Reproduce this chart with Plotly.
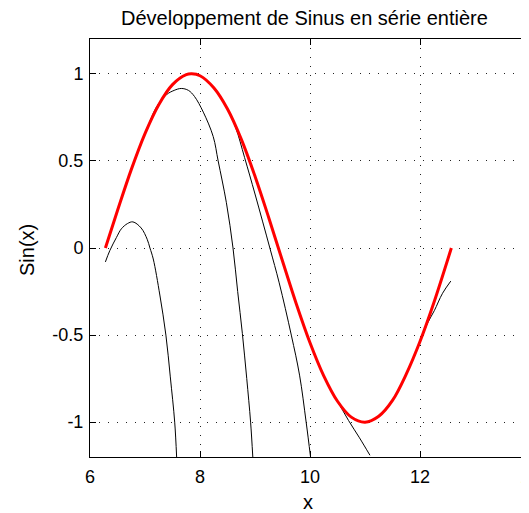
import plotly.graph_objects as go

# ---- data ----
# red curve: sin(x) on [2*pi, 4*pi]
sin_x = [6.28, 6.5, 6.75, 7.0, 7.25, 7.5, 7.75, 7.85, 8.0, 8.25, 8.5, 8.75, 9.0, 9.25,
         9.5, 9.75, 10.0, 10.25, 10.5, 10.75, 11.0, 11.25, 11.5, 11.75, 12.0, 12.25, 12.57]
sin_y = [0.0, 0.215, 0.45, 0.657, 0.823, 0.938, 0.995, 1.0, 0.989, 0.92, 0.798, 0.625, 0.412, 0.174,
         -0.075, -0.32, -0.544, -0.734, -0.88, -0.971, -1.0, -0.966, -0.875, -0.724, -0.537, -0.316, 0.0]

# black curves: truncated power series (partial sums)
t1_x = [6.28, 6.36, 6.48, 6.57, 6.68, 6.78, 6.93, 7.04, 7.09, 7.15, 7.27, 7.38, 7.46, 7.54, 7.575]
t1_y = [-0.08, -0.015, 0.06, 0.11, 0.14, 0.15, 0.115, 0.05, 0.0, -0.063, -0.27, -0.5, -0.74, -1.0, -1.2]

t2_x = [6.28, 6.5, 6.75, 7.0, 7.21, 7.39, 7.53, 7.66, 7.79, 7.9, 8.06, 8.24, 8.33, 8.48,
        8.6, 8.685, 8.77, 8.85, 8.92, 8.96]
t2_y = [0.0, 0.215, 0.45, 0.655, 0.81, 0.88, 0.905, 0.916, 0.905, 0.87, 0.78, 0.64, 0.5, 0.26,
        0.0, -0.25, -0.49, -0.75, -1.0, -1.2]

t3_x = [6.28, 6.5, 6.75, 7.0, 7.25, 7.5, 7.75, 8.0, 8.25, 8.5, 8.65, 8.81, 9.0, 9.27,
        9.44, 9.66, 9.81, 9.93, 10.01]
t3_y = [0.0, 0.215, 0.45, 0.657, 0.823, 0.938, 0.995, 0.989, 0.92, 0.795, 0.69, 0.52, 0.31, 0.0,
        -0.2, -0.5, -0.73, -1.0, -1.2]

t4_x = [6.28, 6.5, 6.75, 7.0, 7.25, 7.5, 7.75, 8.0, 8.25, 8.5, 8.75, 9.0, 9.25, 9.5, 9.75,
        10.0, 10.15, 10.33, 10.5, 10.7, 10.9, 11.09]
t4_y = [0.0, 0.215, 0.45, 0.657, 0.823, 0.938, 0.995, 0.989, 0.92, 0.798, 0.625, 0.412, 0.174,
        -0.075, -0.32, -0.544, -0.66, -0.79, -0.88, -0.99, -1.09, -1.19]

t5_x = [6.28, 6.5, 6.75, 7.0, 7.25, 7.5, 7.75, 8.0, 8.25, 8.5, 8.75, 9.0, 9.25, 9.5, 9.75,
        10.0, 10.25, 10.5, 10.75, 11.0, 11.25, 11.5, 11.75, 11.9, 12.05, 12.14, 12.26, 12.41, 12.56]
t5_y = [0.0, 0.215, 0.45, 0.657, 0.823, 0.938, 0.995, 0.989, 0.92, 0.798, 0.625, 0.412, 0.174,
        -0.075, -0.32, -0.544, -0.734, -0.88, -0.971, -1.0, -0.966, -0.875, -0.724, -0.62, -0.5,
        -0.43, -0.36, -0.26, -0.19]

x_ticks = [6, 8, 10, 12, 14]
x_tick_labels = ["6", "8", "10", "12", "14"]
y_ticks = [-1, -0.5, 0, 0.5, 1]
y_tick_labels = ["-1", "-0.5", "0", "0.5", "1"]

title_text = "Développement de Sinus en série entière"
x_label = "x"
y_label = "Sin(x)"

FONT = "Liberation Sans"

# figure geometry (page is offset by the 8px body margin)
W, H = 529, 505
L, R, T, B = 82, 7, 31, 56
PW, PH = W - L - R, H - T - B


def px(x):
    return (x - L) / PW


def py(y):
    return (H - B - y) / PH


fig = go.Figure()
for xs, ys in [(t1_x, t1_y), (t2_x, t2_y), (t3_x, t3_y), (t4_x, t4_y), (t5_x, t5_y)]:
    fig.add_trace(go.Scatter(x=xs, y=ys, mode="lines", line=dict(color="black", width=1),
                             line_shape="spline", showlegend=False, hoverinfo="skip"))
fig.add_trace(go.Scatter(x=sin_x, y=sin_y, mode="lines", line=dict(color="#ff0000", width=3),
                         line_shape="spline", showlegend=False, hoverinfo="skip"))

axis_common = dict(showline=True, linecolor="black", linewidth=1, mirror="ticks",
                   ticks="inside", ticklen=6, tickcolor="black", tickwidth=1,
                   showgrid=True, gridcolor="#222", gridwidth=1, griddash="1px,8px",
                   zeroline=False, ticklabeloverflow="allow", automargin=False,
                   tickfont=dict(family=FONT, size=18, color="black"))

fig.update_xaxes(range=[6, 14], tickvals=x_ticks, ticktext=x_tick_labels,
                 ticklabelstandoff=3, **axis_common)
fig.update_yaxes(range=[-1.2, 1.2], tickvals=y_ticks, ticktext=y_tick_labels,
                 ticklabelstandoff=2, **axis_common)

fig.update_layout(
    width=W, height=H,
    margin=dict(l=L, r=R, t=T, b=B, pad=0, autoexpand=False),
    paper_bgcolor="white", plot_bgcolor="white",
    annotations=[
        dict(text=title_text, xref="paper", yref="paper", x=px(296), y=py(10),
             xanchor="center", yanchor="middle", showarrow=False,
             font=dict(family=FONT, size=20, color="black")),
        dict(text=x_label, xref="paper", yref="paper", x=px(300), y=py(494),
             xanchor="center", yanchor="middle", showarrow=False,
             font=dict(family=FONT, size=20, color="black")),
        dict(text=y_label, xref="paper", yref="paper", x=px(19), y=py(242),
             xanchor="center", yanchor="middle", showarrow=False,
             textangle=-90, font=dict(family=FONT, size=20, color="black")),
    ],
)

fig.write_html("out.html")
